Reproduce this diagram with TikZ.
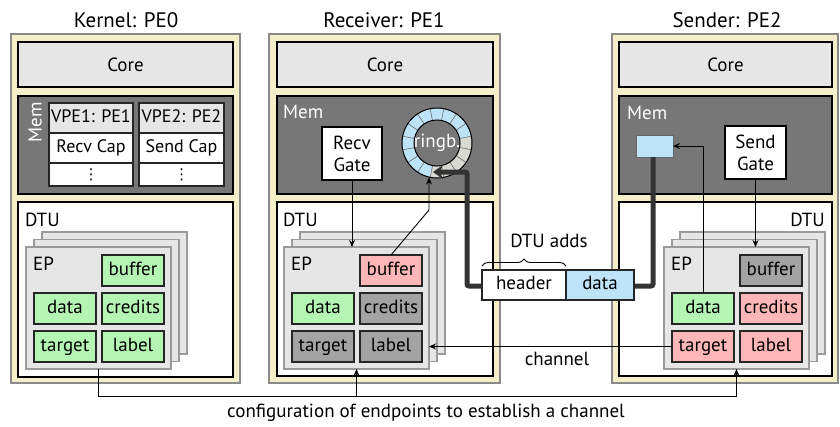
\documentclass[tikz,border=0pt]{standalone}
\usepackage{fontspec}
\setmainfont{PT Sans}
\newfontfamily\djv{DejaVu Sans}
\usetikzlibrary{arrows.meta,decorations.pathreplacing,calc}
\definecolor{cream}{HTML}{F4EFC9}
\definecolor{pegray}{HTML}{8A8A8A}
\definecolor{coregray}{HTML}{E6E6E6}
\definecolor{memgray}{HTML}{777777}
\definecolor{sheetfill}{HTML}{E6E6E6}
\definecolor{sheetline}{HTML}{9A9A9A}
\definecolor{cGreen}{HTML}{B4F5B4}
\definecolor{cPink}{HTML}{FFB6B6}
\definecolor{cGray}{HTML}{A3A3A3}
\definecolor{cBlue}{HTML}{BDE3F8}
\definecolor{ringgray}{HTML}{D9D9D4}
\definecolor{thickc}{HTML}{333333}
\newcommand\rbox[7]{\node[#2, minimum width={(#5)-(#3)}, minimum height={(#6)-(#4)}] (#1) at ({((#3)+(#5))/2},{((#4)+(#6))/2}) {#7};}
\newcommand\epstack[7]{%
\rbox{#1s3}{sheet}{#2+16}{232}{#2+161}{354}{}
\rbox{#1s2}{sheet}{#2+8}{239.5}{#2+153}{361.5}{}
\rbox{#1f}{sheet}{#2}{247}{#2+145}{369}{}
\node[anchor=west, inner sep=0] (#1ep) at (#2+7,264) {EP};
\rbox{#1buf}{#3}{#2+76}{255}{#2+138}{286}{buffer}
\rbox{#1data}{#4}{#2+8}{293}{#2+70}{324}{data}
\rbox{#1cred}{#5}{#2+76}{293}{#2+138}{324}{credits}
\rbox{#1tgt}{#6}{#2+8}{331}{#2+70}{362}{target}
\rbox{#1lab}{#7}{#2+76}{331}{#2+138}{362}{label}}
\tikzset{
  bx/.style={rectangle, inner sep=0, outer sep=0},
  pe/.style={bx, draw=pegray, fill=cream, line width=1.5pt},
  corebox/.style={bx, draw=black, fill=coregray, line width=1.2pt},
  membox/.style={bx, draw=black, fill=memgray, line width=1.2pt},
  dtubox/.style={bx, draw=black, fill=white, line width=1.2pt},
  sheet/.style={bx, draw=sheetline, fill=sheetfill, line width=1.3pt},
  field/.style={bx, draw=black!85, line width=1.1pt, text height=13.5pt, text depth=4pt},
  fg/.style={field, fill=cGreen},
  fp/.style={field, fill=cPink},
  fx/.style={field, fill=cGray},
  thead/.style={field, fill=coregray, font=\fontsize{18}{21}\selectfont},
  tcell/.style={field, fill=white, font=\fontsize{18}{21}\selectfont},
  dotcell/.style={bx, draw=black!85, line width=1.1pt, fill=white, font=\fontsize{15}{16}\djv},
  gate/.style={bx, draw=black, fill=white, line width=1.1pt, align=center},
  pkt/.style={field},
  title/.style={font=\fontsize{21}{24}\selectfont},
  thinarrow/.style={line width=0.9pt, -{Stealth[length=7pt,width=6pt]}},
  thinline/.style={line width=0.9pt},
  thickarrow/.style={line width=5pt, draw=thickc, rounded corners=2pt, -{Stealth[length=10pt,width=14pt]}},
}
\begin{document}
\begin{tikzpicture}[x=1pt,y=-1pt, every node/.append style={font=\fontsize{19}{22}\selectfont}]
\useasboundingbox (0,0) rectangle (840,426);
% titles
\node[title] (t0) at (126,20) {Kernel: PE0};
\node[title] (t1) at (384,20) {Receiver: PE1};
\node[title] (t2) at (727,20) {Sender: PE2};
% PE0
\rbox{pe0}{pe}{11}{34}{240}{383}{}
\rbox{core0}{corebox}{18}{42}{233}{87}{Core}
\rbox{mem0}{membox}{18}{96}{233}{194}{}
\rbox{dtu0}{dtubox}{18}{202}{233}{377}{}
\node[rotate=90, text=white, inner sep=0] (m0l) at (35,122) {Mem};
\rbox{t1h}{thead}{49}{103}{133}{133}{VPE1: PE1}
\rbox{t1r}{tcell}{49}{133}{133}{163}{Recv Cap}
\rbox{t1d}{dotcell}{49}{163}{133}{186}{⋮}
\rbox{t2h}{thead}{139}{103}{224}{133}{VPE2: PE2}
\rbox{t2r}{tcell}{139}{133}{224}{163}{Send Cap}
\rbox{t2d}{dotcell}{139}{163}{224}{186}{⋮}
\node[anchor=west, inner sep=0] (d0l) at (25,220) {DTU};
\epstack{e0}{26}{fg}{fg}{fg}{fg}{fg}
% PE1
\rbox{pe1}{pe}{269}{34}{500}{383}{}
\rbox{core1}{corebox}{277}{42}{493}{87}{Core}
\rbox{mem1}{membox}{277}{96}{493}{194}{}
\rbox{dtu1}{dtubox}{277}{202}{493}{376}{}
\node[anchor=west, text=white, inner sep=0] (m1l) at (283,112) {Mem};
\rbox{rgate}{gate}{322}{127}{382}{180}{Recv\\Gate}
\node[anchor=west, inner sep=0] (d1l) at (283,220) {DTU};
\epstack{e1}{284}{fp}{fg}{fx}{fx}{fx}
% ring buffer
\node[circle, minimum size=70pt, inner sep=0] (ring) at (437,143) {};
\foreach \a in {0,...,15}{
  \pgfmathsetmacro\sa{-11.25+22.5*\a}
  \pgfmathsetmacro\ea{\sa+22.5}
  \pgfmathsetmacro\isgray{(\a<5)?1:0}
  \ifdim\isgray pt>0.5pt \def\segc{ringgray}\else\def\segc{cBlue}\fi
  \filldraw[fill=\segc, draw=black!55, line width=0.5pt]
    ([shift={(\sa:35)}]ring.center) arc[start angle=\sa, end angle=\ea, radius=35]
    -- ([shift={(\ea:23)}]ring.center) arc[start angle=\ea, end angle=\sa, radius=23] -- cycle;
}
\draw[line width=1pt] (ring.center) circle[radius=35];
\draw[line width=1pt] (ring.center) circle[radius=23];
\node[text=white, inner sep=0] (ringl) at (ring.center) {ringb.};
% PE2
\rbox{pe2}{pe}{612}{34}{838}{383}{}
\rbox{core2}{corebox}{619}{42}{832}{87}{Core}
\rbox{mem2}{membox}{619}{96}{832}{194}{}
\rbox{dtu2}{dtubox}{619}{202}{832}{376}{}
\node[anchor=west, text=white, inner sep=0] (m2l) at (627,113) {Mem};
\rbox{sendbuf}{bx, draw=black!60, fill=cBlue, line width=1pt}{636}{135}{673}{157}{}
\rbox{sgate}{gate}{725}{126}{786}{179}{Send\\Gate}
\node[anchor=east, inner sep=0] (d2l) at (825,220) {DTU};
\epstack{e2}{664}{fx}{fg}{fp}{fp}{fp}
% thin arrows
\draw[thinarrow] (rgate.south) -- (rgate.south |- e1f.north);
\coordinate (rbend) at (429,210);
\coordinate (ringin) at (429,177.5);
\draw[thinarrow] (e1buf.north) -- (rbend) -- (ringin);
\draw[thinarrow] (sgate.south) -- (sgate.south |- e2f.north);
\draw[thinarrow] (e2data.north) |- (sendbuf.east);
\draw[thinarrow] (e2tgt.west) -- (e2tgt.west -| e1f.east);
\node (chl) at (557,359) {channel};
% configuration
\coordinate (cfgR) at (e2f.south |- 0,396);
\draw[thinline] (e0f.south) |- (cfgR);
\draw[thinarrow] (e1f.south |- cfgR) -- (e1f.south);
\draw[thinarrow] (cfgR) -- (e2f.south);
\node (cfgl) at (426,413) {configuration of endpoints to establish a channel};
% thick data path
\coordinate (tb1) at (653,286);
\coordinate (tb2) at (467,286);
\coordinate (tb3) at (467,172);
\coordinate (ringtip) at (433,172);
\draw[thickarrow] (sendbuf.south -| tb1) -- (tb1) -- (tb2) -- (tb3) -- (ringtip);
% packet
\rbox{hdr}{pkt, fill=white}{482}{270}{566}{300}{header}
\rbox{pdata}{pkt, fill=cBlue}{566}{270}{634}{300}{data}
\draw[line width=0.9pt, decorate, decoration={brace, amplitude=7pt}] (hdr.north west) ++(0,-4) coordinate (br1) -- (hdr.north east |- br1);
\node (adds) at (549,241) {DTU adds};
\end{tikzpicture}
\end{document}
